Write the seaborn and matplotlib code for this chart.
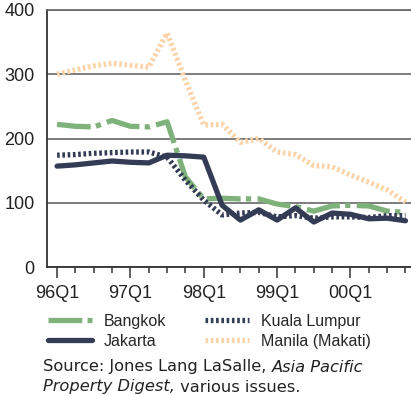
"""office rents in four south-east asian cities, 1996-2000"""

import seaborn as sns
import pandas as pd
import matplotlib.pyplot as plt
from matplotlib.ticker import MultipleLocator, FixedLocator

quarters = [f"{y:02d}Q{q}" for y in (96, 97, 98, 99, 0) for q in (1, 2, 3, 4)]
major_labels = ["96Q1", "97Q1", "98Q1", "99Q1", "00Q1"]

bangkok = [222, 219, 218, 228, 219, 218, 226, 140, 106, 107, 106, 106,
           98, 94, 87, 95, 96, 95, 87, 85]
jakarta = [157, 159, 162, 165, 163, 162, 174, 173, 171, 96, 73, 89,
           73, 92, 70, 84, 82, 75, 76, 72]
kuala_lumpur = [174, 175, 177, 178, 179, 179, 171, 135, 104, 81, 84, 85,
                78, 80, 76, 78, 78, 77, 80, 80]
manila = [300, 307, 313, 317, 314, 311, 364, 290, 221, 222, 194, 200,
          179, 175, 158, 156, 143, 132, 120, 101]

cities = ["Bangkok", "Jakarta", "Kuala Lumpur", "Manila (Makati)"]
series = [bangkok, jakarta, kuala_lumpur, manila]

rows = []
for city, vals in zip(cities, series):
    for i, v in enumerate(vals):
        rows.append({"idx": i, "quarter": quarters[i], "city": city, "rent": v})
df = pd.DataFrame(rows)

colors = {"Bangkok": "#7fb27a", "Jakarta": "#343c55",
          "Kuala Lumpur": "#343c55", "Manila (Makati)": "#fcd3a8"}
dashes = {"Bangkok": (6.4, 1.0, 1.0, 1.2), "Jakarta": "",
          "Kuala Lumpur": (0.5, 0.5), "Manila (Makati)": (0.5, 0.5)}

sns.set_style("white")
plt.rcParams["font.family"] = ["Liberation Sans", "DejaVu Sans"]

fig = plt.figure(figsize=(4.11, 3.96), dpi=100)
ax = fig.add_axes([47 / 411, 1 - 267 / 396, 1 - 47 / 411, 257 / 396])

sns.lineplot(data=df, x="idx", y="rent", hue="city", style="city",
             palette=colors, dashes=dashes, linewidth=3.8, ax=ax,
             hue_order=cities, style_order=cities)

ax.set_xlim(-0.55, 19.3)
ax.set_ylim(0, 400)
ax.set_xlabel("")
ax.set_ylabel("")

ax.yaxis.set_major_locator(MultipleLocator(100))
ax.tick_params(axis="y", length=0, pad=9, labelsize=13, labelcolor="#222222")
ax.grid(axis="y", color="#666666", linewidth=1.2)
ax.set_axisbelow(True)

ax.xaxis.set_major_locator(FixedLocator([0, 4, 8, 12, 16]))
ax.xaxis.set_minor_locator(FixedLocator(list(range(20))))
ax.set_xticks([0, 4, 8, 12, 16], major_labels)
ax.tick_params(axis="x", which="major", length=8, width=1.1, color="#333333",
               direction="out", pad=5, labelsize=13, labelcolor="#222222", bottom=True)
ax.tick_params(axis="x", which="minor", length=4, width=1.1, color="#333333",
               direction="out", bottom=True)

ax.spines["right"].set_visible(False)
ax.spines["top"].set_color("#666666")
ax.spines["top"].set_linewidth(1.2)
for side in ("left", "bottom"):
    ax.spines[side].set_color("#333333")
    ax.spines[side].set_linewidth(1.3)

handles, labels = ax.get_legend_handles_labels()
ax.get_legend().remove()
fig.legend(handles, labels, loc="upper left", bbox_to_anchor=(48 / 411, 1 - 314 / 396),
           ncol=2, frameon=False, fontsize=11.5, handlelength=2.75,
           handletextpad=0.75, columnspacing=2.4, labelspacing=0.3,
           borderpad=0, borderaxespad=0)

# source note: plain + italic runs placed one after another
src_size = 11.7
src = fig.text(43 / 411, 1 - 367 / 396, "Source: Jones Lang LaSalle, ", fontsize=src_size,
               family="DejaVu Sans", va="center", color="#222222")
fig.canvas.draw()
bb = src.get_window_extent()
fig.text(bb.x1 / fig.bbox.width, 1 - 367 / 396, "Asia Pacific", fontsize=src_size,
         family="DejaVu Sans", style="italic", va="center", color="#222222")
line2 = fig.text(43 / 411, 1 - 387 / 396, "Property Digest,", fontsize=src_size,
                 family="DejaVu Sans", style="italic", va="center", color="#222222")
fig.canvas.draw()
bb2 = line2.get_window_extent()
fig.text(bb2.x1 / fig.bbox.width, 1 - 387 / 396, " various issues.", fontsize=src_size,
         family="DejaVu Sans", va="center", color="#222222")

fig.savefig("out.png", dpi=100)
